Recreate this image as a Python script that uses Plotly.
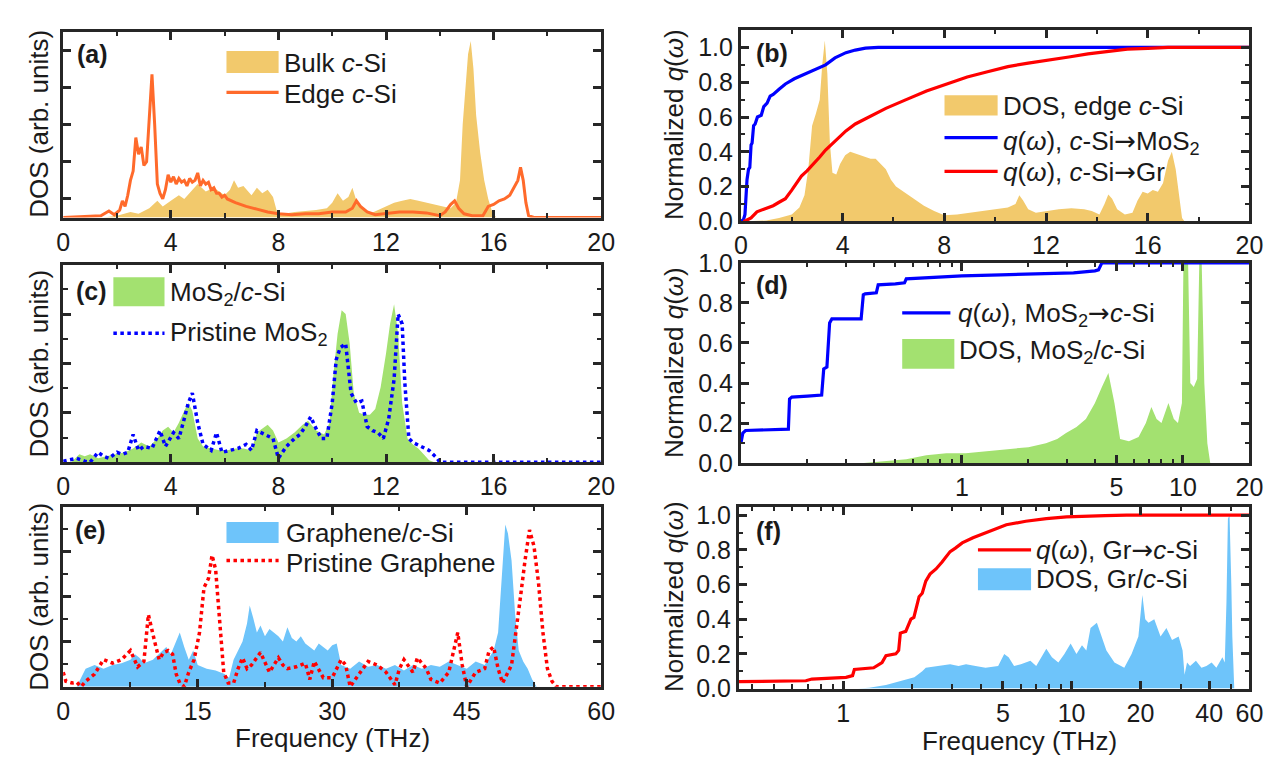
import math
import plotly.graph_objects as go

# ---------------- data ----------------
# (a) bulk / edge c-Si DOS (arb. units, normalised to panel height)
bulk_x = [0, 1.5, 2.0, 2.5, 2.8, 3.2, 3.5, 3.7, 4.0, 4.3, 4.5, 4.8, 5.0, 5.3, 5.6, 6.0, 6.2, 6.35, 6.5, 6.7,
          7.0, 7.2, 7.4, 7.6, 7.8, 7.95, 8.2, 8.6, 9.0, 9.4, 9.8, 10.0, 10.2, 10.4, 10.6, 10.75, 10.9, 11.1,
          11.4, 11.7, 12.0, 12.3, 12.6, 12.9, 13.2, 13.5, 13.8, 14.1, 14.4, 14.6, 14.75, 14.85, 14.95, 15.05,
          15.15, 15.25, 15.35, 15.5, 15.65, 15.8, 15.95, 16.1, 20]
bulk_y = [0, 0, 0.01, 0.03, 0.02, 0.05, 0.09, 0.06, 0.09, 0.12, 0.1, 0.15, 0.18, 0.14, 0.16, 0.12, 0.15, 0.2,
          0.16, 0.17, 0.12, 0.16, 0.13, 0.15, 0.11, 0.03, 0.02, 0.03, 0.035, 0.04, 0.05, 0.08, 0.13, 0.09, 0.11,
          0.16, 0.09, 0.05, 0.02, 0.04, 0.06, 0.08, 0.09, 0.1, 0.09, 0.08, 0.07, 0.06, 0.05, 0.08, 0.2, 0.5,
          0.72, 0.88, 0.95, 0.8, 0.55, 0.35, 0.2, 0.1, 0.03, 0, 0]
edge_x = [0, 0.5, 1.0, 1.4, 1.7, 1.9, 2.1, 2.2, 2.3, 2.4, 2.5, 2.6, 2.7, 2.8, 2.9, 3.0, 3.1, 3.2, 3.3, 3.4,
          3.5, 3.6, 3.7, 3.8, 3.9, 4.0, 4.1, 4.2, 4.3, 4.4, 4.5, 4.6, 4.7, 4.8, 4.9, 5.0, 5.1, 5.2, 5.3, 5.4,
          5.5, 5.6, 5.7, 5.8, 5.9, 6.0, 6.1, 6.4, 6.8, 7.2, 7.6, 8.0, 8.5, 9.0, 9.5, 10.0, 10.5, 10.75, 10.9,
          11.05, 11.3, 11.6, 12.0, 12.5, 13.0, 13.5, 14.0, 14.2, 14.4, 14.55, 14.7, 14.9, 15.2, 15.6, 15.8,
          16.0, 16.2, 16.4, 16.6, 16.8, 16.9, 17.0, 17.1, 17.2, 17.3, 17.5, 20]
edge_y = [0.0, 0.003, 0.005, 0.01, 0.035, 0.015, 0.04, 0.09, 0.06, 0.12, 0.2, 0.25, 0.43, 0.34, 0.38, 0.28,
          0.3, 0.55, 0.77, 0.5, 0.18, 0.13, 0.1, 0.15, 0.23, 0.19, 0.22, 0.18, 0.21, 0.19, 0.2, 0.17, 0.21,
          0.19, 0.2, 0.24, 0.17, 0.2, 0.18, 0.19, 0.15, 0.16, 0.13, 0.13, 0.11, 0.12, 0.1, 0.08, 0.06, 0.045,
          0.03, 0.02, 0.015, 0.02, 0.02, 0.03, 0.03, 0.05, 0.09, 0.06, 0.03, 0.015, 0.02, 0.03, 0.03, 0.025,
          0.01, 0.03, 0.07, 0.09, 0.05, 0.02, 0.01, 0.01, 0.06, 0.07, 0.09, 0.1, 0.12, 0.17, 0.2, 0.27, 0.2,
          0.08, 0.01, 0.0, 0.0]

# (b) edge c-Si DOS and transmission functions q(w)
b_dos_x = [0, 1.0, 1.5, 2.0, 2.3, 2.5, 2.65, 2.8, 2.95, 3.1, 3.2, 3.3, 3.4, 3.5, 3.6, 3.75, 3.9, 4.1, 4.3, 4.5,
           4.7, 4.9, 5.1, 5.3, 5.5, 5.7, 5.9, 6.1, 6.4, 6.8, 7.2, 7.6, 8.0, 8.5, 9.0, 9.5, 10.0, 10.5, 10.8,
           10.95, 11.1, 11.3, 11.6, 12.0, 12.5, 13.0, 13.5, 13.8, 14.1, 14.3, 14.45, 14.6, 14.8, 15.1, 15.4,
           15.6, 15.8, 16.0, 16.2, 16.4, 16.6, 16.8, 16.95, 17.1, 17.25, 17.35, 17.45, 20]
b_dos_y = [0, 0.005, 0.02, 0.04, 0.08, 0.15, 0.3, 0.55, 0.62, 0.7, 0.9, 1.04, 0.85, 0.45, 0.28, 0.27, 0.33,
           0.38, 0.4, 0.39, 0.38, 0.37, 0.36, 0.36, 0.33, 0.3, 0.24, 0.2, 0.17, 0.13, 0.09, 0.06, 0.035, 0.04,
           0.05, 0.06, 0.07, 0.08, 0.1, 0.15, 0.12, 0.07, 0.05, 0.06, 0.07, 0.075, 0.07, 0.06, 0.04, 0.1, 0.155,
           0.13, 0.07, 0.04, 0.05, 0.12, 0.17, 0.16, 0.18, 0.17, 0.22, 0.35, 0.4, 0.3, 0.12, 0.02, 0, 0]
qb_mos_x = [0, 0.1, 0.16, 0.2, 0.24, 0.3, 0.35, 0.4, 0.44, 0.5, 0.56, 0.65, 0.8, 0.9, 1.03, 1.15, 1.27, 1.5,
            1.75, 2.1, 2.54, 3.0, 3.33, 3.7, 4.13, 4.5, 4.9, 5.4, 6.0, 20]
qb_mos_y = [0, 0.01, 0.04, 0.2, 0.24, 0.3, 0.31, 0.44, 0.45, 0.55, 0.56, 0.6, 0.61, 0.66, 0.68, 0.72, 0.73,
            0.76, 0.79, 0.82, 0.85, 0.88, 0.9, 0.94, 0.97, 0.985, 0.996, 1.0, 1.0, 1.0]
qb_gr_x = [0.1, 0.2, 0.4, 0.63, 0.9, 1.27, 1.5, 1.75, 2.0, 2.38, 2.6, 2.86, 3.1, 3.33, 3.7, 4.13, 4.5, 4.9,
           5.3, 5.7, 6.5, 7.3, 8.1, 8.9, 9.7, 10.5, 11.3, 12.1, 12.9, 13.65, 14.4, 15.2, 16.0, 16.8, 18, 20]
qb_gr_y = [0, 0.005, 0.02, 0.055, 0.07, 0.09, 0.11, 0.13, 0.18, 0.26, 0.29, 0.33, 0.37, 0.41, 0.46, 0.52,
           0.56, 0.59, 0.62, 0.65, 0.7, 0.75, 0.79, 0.83, 0.86, 0.89, 0.91, 0.926, 0.945, 0.963, 0.978, 0.99,
           0.995, 1.0, 1.0, 1.0]

# (c) MoS2/c-Si and pristine MoS2 DOS
c_dos_x = [0, 0.3, 0.6, 0.8, 1.0, 1.3, 1.6, 2.0, 2.3, 2.6, 2.9, 3.2, 3.5, 3.7, 3.9, 4.1, 4.3, 4.5, 4.65, 4.8,
           5.0, 5.2, 5.5, 5.8, 6.1, 6.4, 6.7, 7.0, 7.2, 7.4, 7.6, 7.8, 8.0, 8.3, 8.6, 8.9, 9.1, 9.4, 9.7, 9.9,
           10.05, 10.2, 10.35, 10.5, 10.65, 10.8, 11.0, 11.2, 11.4, 11.6, 11.8, 12.0, 12.15, 12.3, 12.45, 12.6,
           12.8, 13.0, 13.2, 13.4, 13.6, 13.8, 20]
c_dos_y = [0, 0.0, 0.04, 0.03, 0.04, 0.02, 0.03, 0.04, 0.05, 0.07, 0.1, 0.08, 0.12, 0.16, 0.18, 0.15, 0.2,
           0.26, 0.3, 0.26, 0.12, 0.08, 0.07, 0.06, 0.06, 0.07, 0.07, 0.06, 0.15, 0.17, 0.19, 0.16, 0.1, 0.12,
           0.15, 0.19, 0.21, 0.16, 0.14, 0.2, 0.45, 0.65, 0.77, 0.75, 0.6, 0.35, 0.25, 0.24, 0.24, 0.27, 0.38,
           0.55, 0.7, 0.8, 0.65, 0.3, 0.12, 0.09, 0.07, 0.04, 0.01, 0, 0]
c_pr_x = [0, 0.5, 0.8, 1.0, 1.3, 1.5, 1.7, 2.0, 2.2, 2.4, 2.6, 2.8, 3.0, 3.3, 3.6, 3.8, 4.1, 4.3, 4.5, 4.65,
          4.8, 5.0, 5.2, 5.5, 5.7, 5.9, 6.2, 6.5, 6.8, 7.0, 7.2, 7.5, 7.8, 8.0, 8.3, 8.6, 8.8, 9.0, 9.2, 9.4,
          9.6, 9.8, 10.0, 10.15, 10.3, 10.5, 10.7, 10.9, 11.1, 11.3, 11.5, 11.7, 11.9, 12.1, 12.3, 12.45, 12.6,
          12.7, 12.85, 13.0, 13.3, 13.6, 13.9, 14.0, 20]
c_pr_y = [0.005, 0.02, 0.005, 0.0, 0.05, 0.03, 0.02, 0.05, 0.04, 0.05, 0.14, 0.06, 0.08, 0.07, 0.16, 0.08,
          0.15, 0.12, 0.22, 0.3, 0.35, 0.2, 0.09, 0.06, 0.15, 0.05, 0.06, 0.07, 0.09, 0.06, 0.16, 0.14, 0.12,
          0.02, 0.08, 0.12, 0.14, 0.18, 0.23, 0.17, 0.12, 0.12, 0.3, 0.52, 0.58, 0.6, 0.35, 0.3, 0.31, 0.18,
          0.16, 0.15, 0.12, 0.22, 0.42, 0.75, 0.7, 0.4, 0.12, 0.1, 0.08, 0.06, 0.02, 0.0, 0.0]

# (d) q(w) MoS2 -> c-Si and DOS MoS2/c-Si (log frequency)
d_q_x = [0.1, 0.102, 0.105, 0.12, 0.15, 0.164, 0.166, 0.17, 0.2, 0.232, 0.237, 0.245, 0.252, 0.258, 0.3,
         0.35, 0.358, 0.365, 0.41, 0.418, 0.5, 0.55, 0.56, 0.7, 1.0, 1.5, 2.4, 3.2, 4.0, 4.15, 4.3, 20]
d_q_y = [0.1, 0.15, 0.163, 0.165, 0.166, 0.17, 0.32, 0.33, 0.335, 0.34, 0.47, 0.48, 0.7, 0.72, 0.72, 0.72,
         0.84, 0.845, 0.85, 0.89, 0.895, 0.9, 0.92, 0.925, 0.935, 0.94, 0.945, 0.95, 0.96, 0.965, 1.0, 1.0]
d_dos_x = [0.35, 0.45, 0.56, 0.69, 0.85, 1.04, 1.3, 1.58, 2.0, 2.4, 2.7, 2.96, 3.3, 3.64, 4.0, 4.3, 4.6, 4.9,
           5.2, 5.7, 6.3, 6.8, 7.2, 7.6, 8.0, 8.6, 9.1, 9.5, 9.9, 10.1, 10.4, 10.8, 11.2, 11.6, 12.0, 12.5,
           12.9, 13.3, 20]
d_dos_y = [0, 0.01, 0.02, 0.04, 0.05, 0.05, 0.06, 0.07, 0.08, 0.1, 0.12, 0.15, 0.18, 0.22, 0.3, 0.38, 0.45,
           0.3, 0.12, 0.11, 0.13, 0.2, 0.28, 0.22, 0.2, 0.3, 0.22, 0.2, 0.3, 1.2, 1.4, 0.4, 0.38, 0.42, 1.3,
           0.4, 0.1, 0, 0]

# (e) graphene/c-Si and pristine graphene DOS
e_dos_x = [0, 1.5, 2.0, 2.5, 3.5, 4.5, 5.5, 6.5, 7.5, 8.0, 8.5, 9.0, 10.0, 11.0, 11.5, 12.0, 12.5, 13.0, 13.5,
           14.0, 14.5, 15.0, 16.0, 17.0, 18.0, 18.5, 19.0, 19.5, 20.0, 20.5, 20.8, 21.2, 21.6, 22.0, 22.5, 23.0,
           23.5, 24.0, 24.5, 25.0, 25.5, 26.0, 26.5, 27.0, 27.5, 28.0, 28.5, 29.0, 29.5, 30.0, 30.5, 31.0, 32.0,
           33.0, 34.0, 35.0, 36.0, 37.0, 38.0, 39.0, 40.0, 41.0, 42.0, 43.0, 44.0, 45.0, 46.0, 47.0, 47.5, 48.0,
           48.5, 49.0, 49.3, 49.6, 50.0, 50.4, 50.8, 51.3, 51.8, 52.3, 52.8, 60]
e_dos_y = [0, 0, 0.05, 0.1, 0.12, 0.1, 0.12, 0.13, 0.15, 0.18, 0.16, 0.13, 0.15, 0.2, 0.22, 0.18, 0.24, 0.3,
           0.22, 0.15, 0.2, 0.12, 0.1, 0.09, 0.07, 0.05, 0.15, 0.2, 0.25, 0.35, 0.45, 0.38, 0.3, 0.34, 0.28,
           0.32, 0.3, 0.28, 0.25, 0.33, 0.27, 0.25, 0.28, 0.24, 0.22, 0.2, 0.24, 0.22, 0.2, 0.23, 0.24, 0.12,
           0.1, 0.14, 0.11, 0.12, 0.1, 0.12, 0.09, 0.12, 0.1, 0.12, 0.11, 0.14, 0.12, 0.1, 0.14, 0.12, 0.16,
           0.2, 0.3, 0.7, 0.9, 0.85, 0.7, 0.4, 0.2, 0.14, 0.1, 0.04, 0, 0]
e_pr_x = [0, 0.3, 1.0, 1.5, 2.0, 2.5, 3.5, 4.5, 5.5, 6.5, 7.5, 8.3, 9.0, 9.5, 10.2, 10.7, 11.2, 11.7, 12.2,
          12.6, 13.0, 13.5, 14.0, 14.6, 15.2, 15.7, 16.2, 16.6, 17.0, 17.4, 17.9, 18.4, 19.0, 19.5, 20.0, 20.5,
          21.0, 22.0, 23.0, 24.0, 24.5, 25.0, 26.0, 27.0, 27.5, 28.0, 29.0, 30.0, 31.0, 31.5, 32.0, 33.0, 34.0,
          35.0, 36.0, 37.0, 37.5, 38.0, 39.0, 39.5, 40.5, 41.0, 42.0, 43.0, 43.5, 44.0, 44.5, 45.0, 46.0, 47.0,
          47.5, 48.0, 48.5, 49.0, 50.0, 50.5, 51.0, 51.5, 52.0, 52.5, 53.0, 53.5, 54.0, 54.5, 55.0, 60]
e_pr_y = [0.08, 0.03, 0.02, 0.025, 0.0, 0.03, 0.07, 0.15, 0.13, 0.15, 0.2, 0.11, 0.14, 0.4, 0.25, 0.15, 0.19,
          0.2, 0.18, 0.07, 0.02, 0.0, 0.08, 0.15, 0.3, 0.55, 0.6, 0.73, 0.65, 0.42, 0.08, 0.02, 0.02, 0.1, 0.16,
          0.1, 0.12, 0.19, 0.08, 0.16, 0.12, 0.1, 0.11, 0.13, 0.04, 0.14, 0.05, 0.05, 0.15, 0.12, 0.0, 0.07,
          0.14, 0.12, 0.08, 0.01, 0.1, 0.15, 0.08, 0.16, 0.1, 0.04, 0.02, 0.08, 0.18, 0.3, 0.12, 0.0, 0.08, 0.1,
          0.2, 0.22, 0.1, 0.02, 0.12, 0.3, 0.5, 0.7, 0.87, 0.78, 0.58, 0.3, 0.1, 0.03, 0.0, 0.0]

# (f) q(w) Gr -> c-Si and DOS Gr/c-Si (log frequency)
f_q_x = [0.35, 0.5, 0.687, 0.73, 0.9, 1.03, 1.1, 1.12, 1.36, 1.48, 1.54, 1.6, 1.7, 1.75, 1.78, 1.88, 1.94,
         1.98, 2.04, 2.1, 2.15, 2.22, 2.3, 2.4, 2.55, 2.71, 2.94, 3.1, 3.32, 3.7, 4.23, 5.18, 6.3, 7.75, 9.5,
         11.6, 14, 17.4, 25, 60]
f_q_y = [0.04, 0.042, 0.045, 0.055, 0.06, 0.065, 0.075, 0.11, 0.12, 0.15, 0.19, 0.195, 0.2, 0.22, 0.32, 0.33,
         0.38, 0.4, 0.41, 0.47, 0.53, 0.55, 0.62, 0.66, 0.69, 0.73, 0.79, 0.81, 0.84, 0.87, 0.9, 0.945, 0.965,
         0.98, 0.99, 0.995, 0.998, 1.0, 1.0, 1.0]
f_dos_x = [1.16, 1.3, 1.54, 1.7, 1.88, 2.05, 2.22, 2.3, 2.6, 2.94, 3.2, 3.45, 3.8, 4.2, 4.77, 5.07, 5.3, 5.6,
           6.0, 6.6, 7.0, 7.75, 8.2, 8.75, 9.3, 9.9, 10.5, 11.1, 11.6, 12.1, 12.9, 13.5, 14.2, 15.4, 17.0, 18.3,
           19.6, 20.4, 21.0, 21.7, 23, 24.5, 26, 27.5, 29.4, 30.6, 31.2, 32, 33, 35, 37, 38.9, 41, 43, 45.7,
           46.8, 47.6, 48.3, 49.1, 50.0, 50.5, 51.5, 60]
f_dos_y = [0, 0.005, 0.02, 0.035, 0.05, 0.065, 0.1, 0.12, 0.13, 0.14, 0.13, 0.14, 0.13, 0.12, 0.13, 0.2, 0.18,
           0.13, 0.14, 0.16, 0.13, 0.23, 0.18, 0.15, 0.2, 0.26, 0.2, 0.25, 0.22, 0.35, 0.38, 0.3, 0.22, 0.15,
           0.12, 0.2, 0.3, 0.54, 0.4, 0.38, 0.4, 0.3, 0.35, 0.28, 0.3, 0.22, 0.08, 0.15, 0.13, 0.16, 0.12, 0.13,
           0.15, 0.12, 0.18, 0.15, 0.5, 0.98, 1.0, 0.6, 0.3, 0.0, 0]

# tick labels
lin20_ticks = [0, 4, 8, 12, 16, 20]
lin60_ticks = [0, 15, 30, 45, 60]
q_ticks = [0.0, 0.2, 0.4, 0.6, 0.8, 1.0]
d_log_ticks = [1, 5, 10, 20]
f_log_ticks = [1, 5, 10, 20, 40, 60]

# ---------------- style ----------------
FONT = "Liberation Sans, Arial, Helvetica, sans-serif"
FR = "#262626"
TXT = "#1a1a1a"
YEL = "#F2C96C"
ORG = "#FF6A2B"
GRN = "#A3E170"
SKY = "#6EC4FA"
BLU = "#0000FF"
RED = "#FF0000"
W, H = 1281, 762


def fx(p):
    return p / W


def fy(p):
    return 1 - p / H


fig = go.Figure()


def area(x, y, color, ax):
    fig.add_trace(go.Scatter(x=x, y=y, mode="lines", fill="tozeroy", fillcolor=color,
                             line=dict(width=0, color=color), xaxis="x" + ax, yaxis="y" + ax,
                             showlegend=False, hoverinfo="skip"))


def curve(x, y, color, ax, dash="solid", width=3):
    fig.add_trace(go.Scatter(x=x, y=y, mode="lines", line=dict(width=width, color=color, dash=dash),
                             xaxis="x" + ax, yaxis="y" + ax, showlegend=False, hoverinfo="skip"))


area(bulk_x, bulk_y, YEL, "")
curve(edge_x, edge_y, ORG, "", width=3)
area(b_dos_x, b_dos_y, YEL, "2")
curve(qb_mos_x, qb_mos_y, BLU, "2", width=3.2)
curve(qb_gr_x, qb_gr_y, RED, "2", width=3.2)
area(c_dos_x, c_dos_y, GRN, "3")
curve(c_pr_x, c_pr_y, BLU, "3", dash="dot", width=3.5)
area(d_dos_x, d_dos_y, GRN, "4")
curve(d_q_x, d_q_y, BLU, "4", width=3.2)
area(e_dos_x, e_dos_y, SKY, "5")
curve(e_pr_x, e_pr_y, RED, "5", dash="dot", width=3.5)
area(f_dos_x, f_dos_y, SKY, "6")
curve(f_q_x, f_q_y, RED, "6", width=3.2)


def axis(dom, anchor, rng, tickvals=None, ticktext=None, minor_vals=None, typ="linear", labels=True):
    d = dict(domain=dom, anchor=anchor, range=rng, type=typ, showline=True, linewidth=3, linecolor=FR,
             mirror="ticks", ticks="inside", ticklen=8, tickwidth=2.5, tickcolor=FR, showgrid=False,
             zeroline=False, showticklabels=labels, fixedrange=True,
             tickfont=dict(family=FONT, size=25, color=TXT))
    if tickvals is not None:
        d["tickmode"] = "array"
        d["tickvals"] = tickvals
        d["ticktext"] = ticktext if ticktext is not None else [str(v) for v in tickvals]
    if minor_vals:
        d["minor"] = dict(tickmode="array", tickvals=minor_vals, ticks="inside", ticklen=4.5, tickwidth=2,
                          tickcolor=FR, showgrid=False)
    return d


LX = [fx(49), fx(596)]
RX = [fx(738), fx(1255)]
lin20_minor = [2, 6, 10, 14, 18]
dos_major = [0.25, 0.5, 0.75]
dos_minor = [0.125, 0.375, 0.625, 0.875]
q_minor = [0.1, 0.3, 0.5, 0.7, 0.9]
q_text = ["%.1f" % v for v in q_ticks]
d_minor = [0.2, 0.3, 0.4, 0.5, 0.6, 0.7, 0.8, 0.9, 2, 3, 4, 6, 7, 8, 9]
f_minor = [0.4, 0.5, 0.6, 0.7, 0.8, 0.9, 2, 3, 4, 6, 7, 8, 9, 30, 50]

layout_axes = dict(
    xaxis=axis(LX, "y", [0, 20], lin20_ticks, None, lin20_minor),
    yaxis=axis([fy(203), fy(10)], "x", [0, 1], [0.1, 0.3, 0.5, 0.7, 0.9], labels=False),
    xaxis2=axis(RX, "y2", [0, 20], lin20_ticks, None, lin20_minor),
    yaxis2=axis([fy(207), fy(8)], "x2", [0, 1.102], q_ticks, q_text, q_minor),
    xaxis3=axis(LX, "y3", [0, 20], lin20_ticks, None, lin20_minor),
    yaxis3=axis([fy(457), fy(252)], "x3", [0, 1], dos_major, None, dos_minor, labels=False),
    xaxis4=axis(RX, "y4", [-1, math.log10(20)], d_log_ticks, None, d_minor, typ="log"),
    yaxis4=axis([fy(458), fy(250)], "x4", [0, 1.0], q_ticks, q_text, q_minor),
    xaxis5=axis(LX, "y5", [0, 60], lin60_ticks, None, [7.5, 22.5, 37.5, 52.5]),
    yaxis5=axis([fy(690), fy(503)], "x5", [0, 1], dos_major, None, dos_minor, labels=False),
    xaxis6=axis([fx(736), fx(1255)], "y6", [math.log10(0.35), math.log10(60)], f_log_ticks, None, f_minor,
                typ="log"),
    yaxis6=axis([fy(692), fy(503)], "x6", [0, 1.05], q_ticks, q_text, q_minor),
)

shapes = []
annotations = []


def rect(x0, x1, y0, y1, color):
    shapes.append(dict(type="rect", xref="paper", yref="paper", x0=fx(x0), x1=fx(x1), y0=fy(y1), y1=fy(y0),
                       fillcolor=color, line=dict(width=0), layer="above"))


def hline(x0, x1, y, color, dash="solid", width=3.2):
    shapes.append(dict(type="line", xref="paper", yref="paper", x0=fx(x0), x1=fx(x1), y0=fy(y), y1=fy(y),
                       line=dict(color=color, width=width, dash=dash), layer="above"))


def text(x, y, s, size=26, anchor="left", angle=0):
    annotations.append(dict(xref="paper", yref="paper", x=fx(x), y=fy(y), text=s, showarrow=False,
                            xanchor=anchor, yanchor="middle", textangle=angle, borderpad=0,
                            font=dict(family=FONT, size=size, color=TXT)))


C = "<i>c</i>"
Q = "<i>q</i>(<i>ω</i>)"
M = "MoS<sub>2</sub>"
ARW = '<span style="font-family:DejaVu Sans">→</span>'

# panel labels
text(62, 33, "<b>(a)</b>", 25)
text(752, 32, "<b>(b)</b>", 25)
text(61, 279, "<b>(c)</b>", 25)
text(752, 273, "<b>(d)</b>", 25)
text(60, 527, "<b>(e)</b>", 25)
text(752, 528, "<b>(f)</b>", 25)

# legends (a)
rect(215, 268, 30, 53, YEL)
text(272, 43, "Bulk " + C + "-Si")
hline(215, 268, 73, ORG)
text(272, 75, "Edge " + C + "-Si")
# (b)
rect(945, 999, 76, 97, YEL)
text(1003, 87, "DOS, edge " + C + "-Si")
hline(945, 999, 120, BLU)
text(1003, 125, Q + ", " + C + "-Si" + ARW + M)
hline(945, 999, 155, RED)
text(1003, 156, Q + ", " + C + "-Si" + ARW + "Gr")
# (c)
rect(100, 152, 265, 295, GRN)
text(157, 282, M + "/" + C + "-Si")
hline(100, 152, 323, BLU, dash="dot", width=3.5)
text(157, 323, "Pristine " + M)
# (d)
hline(902, 951, 302, BLU)
text(958, 304, Q + ", " + M + ARW + C + "-Si")
rect(902, 955, 329, 360, GRN)
text(959, 342, "DOS, " + M + "/" + C + "-Si")
# (e)
rect(215, 268, 519, 541, SKY)
text(274, 530, "Graphene/" + C + "-Si")
hline(215, 268, 559, RED, dash="dot", width=3.5)
text(274, 562, "Pristine Graphene")
# (f)
hline(979, 1033, 548, RED)
text(1037, 548, Q + ", Gr" + ARW + C + "-Si")
rect(979, 1033, 567, 590, SKY)
text(1037, 578, "DOS, Gr/" + C + "-Si")

# axis titles
for yc in (106, 355, 597):
    text(24, yc, "DOS (arb. units)", 26, anchor="center", angle=-90)
for yc in (107, 354, 597):
    text(670, yc, "Normalized " + Q, 26, anchor="center", angle=-90)
text(323, 743, "Frequency (THz)", 26, anchor="center")
text(1021, 746, "Frequency (THz)", 26, anchor="center")

fig.update_layout(width=W, height=H, margin=dict(l=0, r=0, t=0, b=0), paper_bgcolor="white",
                  plot_bgcolor="white", showlegend=False, shapes=shapes, annotations=annotations,
                  **layout_axes)

fig.write_html("out.html")
